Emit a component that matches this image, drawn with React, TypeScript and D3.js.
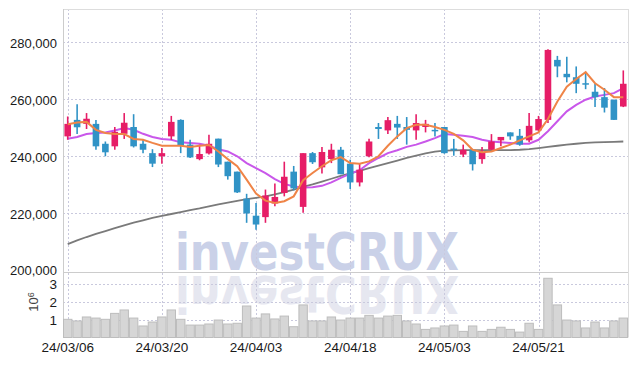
import React, { useEffect, useRef } from "react";
import * as d3 from "d3";

// trading days (yy/mm/dd)
const dates = [
  "24/03/06", "24/03/07", "24/03/08", "24/03/11", "24/03/12", "24/03/13", "24/03/14", "24/03/15", "24/03/18", "24/03/19",
  "24/03/20", "24/03/21", "24/03/22", "24/03/25", "24/03/26", "24/03/27", "24/03/28", "24/03/29", "24/04/01", "24/04/02",
  "24/04/03", "24/04/04", "24/04/05", "24/04/08", "24/04/09", "24/04/11", "24/04/12", "24/04/15", "24/04/16", "24/04/17",
  "24/04/18", "24/04/19", "24/04/22", "24/04/23", "24/04/24", "24/04/25", "24/04/26", "24/04/29", "24/04/30", "24/05/02",
  "24/05/03", "24/05/07", "24/05/08", "24/05/09", "24/05/10", "24/05/13", "24/05/14", "24/05/16", "24/05/17", "24/05/20",
  "24/05/21", "24/05/22", "24/05/23", "24/05/24", "24/05/27", "24/05/28", "24/05/29", "24/05/30", "24/05/31", "24/06/03",
];

const opens = [
  246900, 252700, 251300, 251300, 244300, 243400, 247800, 250200, 244300, 241000,
  239900, 246900, 252700, 244000, 238900, 240900, 246100, 238000, 234500, 225000,
  219000, 218500, 223300, 227000, 234500, 222100, 241000, 236000, 238900, 242200,
  237300, 230700, 239900, 250200, 249000, 251300, 250200, 249000, 250200, 249200,
  250200, 242600, 240500, 242200, 238900, 242200, 245500, 248300, 247100, 245500,
  249000, 252700, 273800, 268900, 267700, 265600, 262600, 260700, 259800, 257400,
];
const highs = [
  253900, 258200, 255100, 252700, 245100, 250200, 255100, 254700, 245700, 242400,
  242800, 254100, 252900, 245700, 244000, 247500, 246100, 238000, 234500, 226700,
  223500, 228200, 230300, 238000, 236500, 241000, 241400, 243200, 244300, 243200,
  238700, 237300, 246100, 251600, 253700, 254100, 253700, 254700, 252700, 251600,
  250200, 246000, 244000, 242200, 243200, 247700, 246700, 248300, 249500, 255100,
  254100, 277500, 275200, 274900, 271500, 269600, 265400, 263900, 259800, 270100,
];
const lows = [
  245700, 247700, 249500, 242200, 239900, 242200, 246000, 243000, 241000, 236100,
  237300, 245700, 241000, 239300, 238500, 240500, 236100, 231700, 227000, 216500,
  214100, 216500, 222300, 225800, 227900, 220000, 237200, 233800, 237500, 233600,
  228400, 229300, 239600, 246000, 247700, 246000, 244000, 245700, 248300, 246900,
  240800, 240100, 239600, 234900, 237300, 242200, 243400, 245700, 243600, 244800,
  248700, 251600, 267700, 265900, 262100, 263500, 257200, 255300, 252700, 257200,
];
const closes = [
  251300, 250100, 253100, 243400, 241300, 248500, 251700, 243400, 242200, 237300,
  241000, 252000, 243600, 239500, 240700, 244300, 237000, 232900, 227200, 219800,
  215900, 226100, 225600, 232700, 228600, 241000, 237800, 241400, 242200, 233600,
  230700, 235200, 245100, 249500, 252600, 250000, 249200, 251600, 251300, 249000,
  241000, 242000, 242200, 237100, 241400, 245100, 246700, 246900, 244000, 250600,
  253000, 277300, 271500, 267700, 265400, 265300, 260700, 257000, 252700, 265400,
];

// volume in millions of shares
const volumes = [
  1.01, 0.92, 1.14, 1.08, 1.01, 1.34, 1.53, 1.08, 0.64, 0.86,
  1.14, 1.53, 1.01, 0.69, 0.69, 0.75, 0.97, 0.75, 0.79, 1.75,
  1.08, 1.31, 1.03, 1.19, 0.6, 1.81, 0.92, 0.92, 1.14, 0.97,
  1.08, 1.08, 1.23, 1.08, 1.19, 1.23, 0.92, 0.75, 0.45, 0.53,
  0.64, 0.69, 0.34, 0.64, 0.34, 0.45, 0.57, 0.45, 0.3, 0.79,
  0.45, 3.29, 1.81, 0.97, 0.92, 0.53, 0.86, 0.53, 0.92, 1.08,
];

// moving averages as shown
const ma5 = [
  251200, 251800, 252000, 249200, 248100, 247700, 247700, 246000, 245700, 244600,
  243600, 243600, 243600, 243200, 243600, 243900, 241600, 238900, 236400, 231700,
  226800, 224300, 223500, 224100, 225800, 231500, 234000, 236400, 238500, 239600,
  237500, 237300, 238100, 239900, 243600, 246900, 249800, 251000, 251000, 250200,
  249200, 247800, 245500, 242200, 241300, 241600, 242800, 244000, 245500, 246900,
  248300, 253000, 259200, 264400, 267100, 269500, 265600, 263300, 260700, 260700,
];
const ma20 = [
  246100, 246700, 247700, 248100, 248300, 249000, 249800, 249200, 247800, 246700,
  246000, 245700, 244800, 244600, 244300, 243600, 242400, 241600, 239900, 237500,
  235700, 234000, 231900, 230200, 229300, 228900, 229000, 229500, 230700, 232300,
  233800, 235000, 237500, 239300, 241000, 242000, 243200, 244000, 245100, 246300,
  247700, 247500, 247100, 246700, 245700, 245100, 244800, 244600, 244300, 244300,
  245700, 248700, 252200, 255700, 258000, 259800, 260900, 261500, 262100, 263900,
];
const ma120 = [
  209000, 210300, 211500, 212600, 213600, 214600, 215600, 216600, 217400, 218200,
  218900, 219600, 220300, 221000, 221600, 222300, 223000, 223600, 224200, 224800,
  225300, 225800, 226500, 227300, 228200, 229100, 230000, 231000, 232000, 233000,
  233900, 234800, 235700, 236600, 237500, 238400, 239300, 240100, 240900, 241500,
  241900, 242000, 242100, 242100, 242100, 242100, 242100, 242100, 242200, 242400,
  242800, 243200, 243600, 244000, 244300, 244600, 244800, 244900, 245000, 245100,
];

const priceTicks = [200000, 220000, 240000, 260000, 280000];
const volumeTicks = [1, 2, 3];
const dateTicks = ["24/03/06", "24/03/20", "24/04/03", "24/04/18", "24/05/03", "24/05/21"];

const App = () => {
  const svgRef = useRef(null);

  useEffect(() => {
    const left = 63;
    const right = 628;
    const top = 9;
    const priceBottom = 272;
    const volBottom = 337.5;
    const font = "'Liberation Sans', Arial, sans-serif";

    const svg = d3.select(svgRef.current);
    svg.selectAll("*").remove();

    const x = d3.scaleBand().domain(dates).range([left, right]);
    const cx = (i) => x(dates[i]) + x.bandwidth() / 2;
    const y = d3.scaleLinear().domain([199200, 291700]).range([priceBottom, top]);
    const yv = d3.scaleLinear().domain([0, (volBottom - priceBottom) / 18]).range([volBottom, priceBottom]);

    // watermark + reflection
    const wm = svg.append("g");
    wm.append("text")
      .attr("x", 175)
      .attr("y", 270)
      .attr("textLength", 284)
      .attr("lengthAdjust", "spacingAndGlyphs")
      .style("font-family", "'DejaVu Sans', sans-serif")
      .style("font-weight", "bold")
      .style("font-size", "51px")
      .style("fill", "#cad1e8")
      .text("investCRUX");
    wm.append("text")
      .attr("x", 175)
      .attr("y", 276)
      .attr("transform", "translate(0,552) scale(1,-1)")
      .attr("textLength", 284)
      .attr("lengthAdjust", "spacingAndGlyphs")
      .style("font-family", "'DejaVu Sans', sans-serif")
      .style("font-weight", "bold")
      .style("font-size", "51px")
      .style("fill", "#e6e7f0")
      .text("investCRUX");

    // grid
    const grid = svg.append("g")
      .attr("stroke", "#c9c9dd")
      .attr("stroke-dasharray", "2,2")
      .attr("stroke-width", 1);
    priceTicks.slice(1).forEach((t) => {
      grid.append("line")
        .attr("x1", left).attr("x2", right)
        .attr("y1", Math.round(y(t)) + 0.5).attr("y2", Math.round(y(t)) + 0.5);
    });
    volumeTicks.forEach((t) => {
      grid.append("line")
        .attr("x1", left).attr("x2", right)
        .attr("y1", Math.round(yv(t)) + 0.5).attr("y2", Math.round(yv(t)) + 0.5);
    });
    dateTicks.forEach((d) => {
      const px = Math.round(cx(dates.indexOf(d))) + 0.5;
      grid.append("line")
        .attr("x1", px).attr("x2", px)
        .attr("y1", top).attr("y2", volBottom);
    });

    // frame
    svg.append("line").attr("x1", left).attr("x2", right).attr("y1", top + 0.5).attr("y2", top + 0.5).attr("stroke", "#dddddd");
    svg.append("line").attr("x1", right + 0.5).attr("x2", right + 0.5).attr("y1", top).attr("y2", volBottom).attr("stroke", "#dddddd");
    svg.append("line").attr("x1", left + 0.5).attr("x2", left + 0.5).attr("y1", top).attr("y2", volBottom).attr("stroke", "#cccccc");
    svg.append("line").attr("x1", left).attr("x2", right).attr("y1", priceBottom + 0.5).attr("y2", priceBottom + 0.5).attr("stroke", "#cccccc");

    // volume bars
    svg.append("g")
      .selectAll("rect")
      .data(volumes)
      .enter()
      .append("rect")
      .attr("x", (d, i) => x(dates[i]) + 0.5)
      .attr("width", x.bandwidth() - 1)
      .attr("y", (d) => yv(d))
      .attr("height", (d) => volBottom - yv(d))
      .attr("fill", "#d6d6d6")
      .attr("stroke", "#bdbdbd")
      .attr("stroke-width", 1);

    // moving averages
    const lineGen = d3.line().x((d, i) => cx(i)).y((d) => y(d));
    svg.append("path").attr("d", lineGen(ma120)).attr("fill", "none").attr("stroke", "#7a7a7a").attr("stroke-width", 1.8);
    svg.append("path").attr("d", lineGen(ma20)).attr("fill", "none").attr("stroke", "#c957ea").attr("stroke-width", 2);

    // candles
    const up = "#e61d67";
    const down = "#3093c6";
    const candles = svg.append("g");
    dates.forEach((d, i) => {
      const color = closes[i] >= opens[i] ? up : down;
      candles.append("line")
        .attr("x1", cx(i)).attr("x2", cx(i))
        .attr("y1", y(highs[i])).attr("y2", y(lows[i]))
        .attr("stroke", color)
        .attr("stroke-width", 1.6);
      const y0 = y(Math.max(opens[i], closes[i]));
      const y1 = y(Math.min(opens[i], closes[i]));
      candles.append("rect")
        .attr("x", cx(i) - 3.3)
        .attr("width", 6.6)
        .attr("y", y0)
        .attr("height", Math.max(1.5, y1 - y0))
        .attr("fill", color);
    });

    svg.append("path").attr("d", lineGen(ma5)).attr("fill", "none").attr("stroke", "#ef8447").attr("stroke-width", 2);

    // price axis
    const yAxis = svg.append("g")
      .attr("transform", `translate(${left},0)`)
      .call(d3.axisLeft(y).tickValues(priceTicks).tickFormat(d3.format(",")).tickSize(0).tickPadding(6));
    yAxis.select(".domain").remove();
    yAxis.selectAll("text")
      .style("font-family", font)
      .style("font-size", "13px")
      .style("fill", "#1a1a1a")
      .attr("dy", "0.4em");

    // volume axis
    const vAxis = svg.append("g")
      .attr("transform", `translate(${left},0)`)
      .call(d3.axisLeft(yv).tickValues(volumeTicks).tickFormat(d3.format("d")).tickSize(0).tickPadding(6));
    vAxis.select(".domain").remove();
    vAxis.selectAll("text")
      .style("font-family", font)
      .style("font-size", "13.5px")
      .style("fill", "#1a1a1a")
      .attr("dy", "0.4em");

    const unit = svg.append("text")
      .attr("transform", "translate(38,302) rotate(-90)")
      .attr("text-anchor", "middle")
      .style("font-family", font)
      .style("font-size", "13px")
      .style("fill", "#444");
    unit.append("tspan").text("10");
    unit.append("tspan").attr("dy", "-0.5em").style("font-size", "9px").text("6");

    // date axis
    const xAxis = svg.append("g")
      .attr("transform", `translate(0,${volBottom})`)
      .call(d3.axisBottom(x).tickValues(dateTicks).tickSize(0).tickPadding(5));
    xAxis.select(".domain").remove();
    xAxis.selectAll("text")
      .style("font-family", font)
      .style("font-size", "13.5px")
      .style("fill", "#1a1a1a")
      .attr("dy", "0.71em");
  }, []);

  return (
    <div style={{ position: "absolute", left: 0, top: 0 }}>
      <svg ref={svgRef} width="637" height="366" style={{ display: "block", background: "#fff" }} />
    </div>
  );
};

export default App;
